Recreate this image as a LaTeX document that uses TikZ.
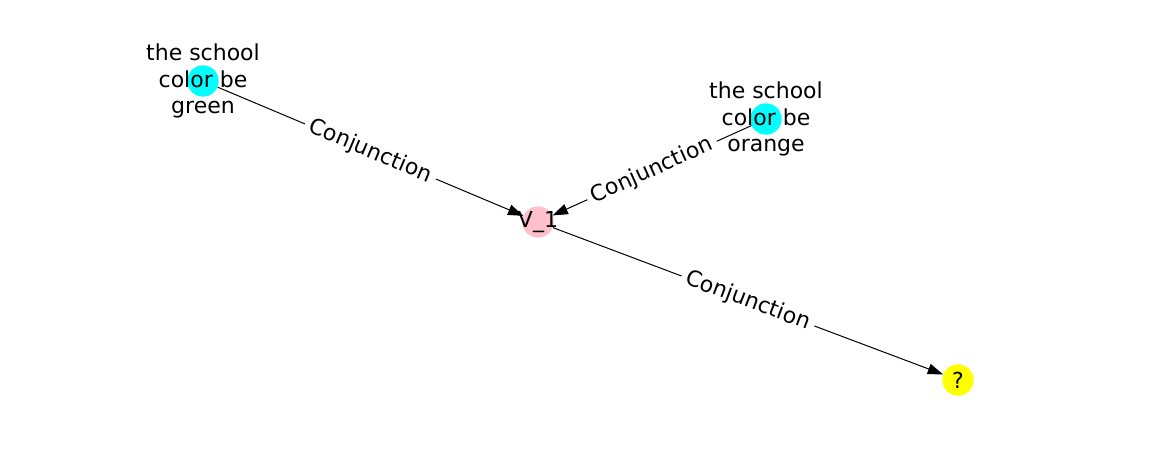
\documentclass[tikz,border=0pt]{standalone}
\usepackage{fontspec}
\setmainfont{DejaVu Sans}
\usetikzlibrary{arrows.meta}
\definecolor{nodecyan}{HTML}{00FFFF}
\definecolor{nodepink}{HTML}{FFC0CB}
\definecolor{nodeyellow}{HTML}{FFFF00}

\begin{document}
\begin{tikzpicture}[%
    x=0.75pt, y=-0.75pt,
    dot/.style={
      circle,
      inner sep=0pt,
      minimum size=23.5pt
    },
    nodeText/.style={
      align=center,
      inner sep=0pt,
      font=\fontsize{16.5}{19.8}\selectfont
    },
    edgeLine/.style={
      draw=black,
      line width=0.75pt,
      -{Triangle[length=11.5pt,width=8pt]}
    },
    edgeLabel/.style={
      midway,
      sloped,
      fill=white,
      inner xsep=4pt,
      inner ysep=3pt,
      font=\fontsize{16.5}{19.8}\selectfont
    }
  ]
    % Frame
    \useasboundingbox (0,0) rectangle (1162,462);

    \node[dot, fill=nodecyan]   (green)  at (203,81)  {};
    \node[dot, fill=nodecyan]   (orange) at (766,119) {};
    \node[dot, fill=nodepink]   (V)      at (538,222) {};
    \node[dot, fill=nodeyellow] (Q)      at (958,380) {};

    \draw[edgeLine] (green)  -- (V) node[edgeLabel] {Conjunction};
    \draw[edgeLine] (orange) -- (V) node[edgeLabel] {Conjunction};
    \draw[edgeLine] (V)      -- (Q) node[edgeLabel] {Conjunction};

    \node[nodeText] (greenText)  at (green)  {the school\\color be\\green};
    \node[nodeText] (orangeText) at (orange) {the school\\color be\\orange};
    \node[nodeText] (VText)      at (V)      {V\_1};
    \node[nodeText] (QText)      at (Q)      {?};
\end{tikzpicture}
\end{document}
